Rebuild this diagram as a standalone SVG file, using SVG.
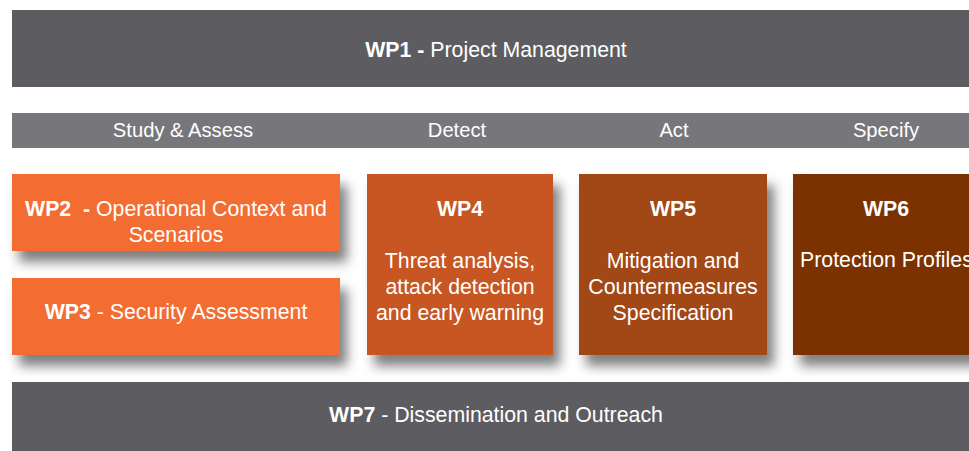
<svg xmlns="http://www.w3.org/2000/svg" width="969" height="451" viewBox="0 0 969 451">
<defs>
<filter id="sh" x="-20%" y="-20%" width="150%" height="160%">
<feDropShadow dx="7" dy="11" stdDeviation="6" flood-color="#000" flood-opacity="0.5"/>
</filter>
<style>
text{font-family:"Liberation Sans",Arial,sans-serif;fill:#fff;font-size:21.3px;text-anchor:middle}
.b{font-weight:bold}
.bar{fill:#5d5d61}
.ph{fill:#77777b}
.p{font-size:20.2px}
</style>
</defs>
<rect width="969" height="451" fill="#fff"/>
<g id="wp1"><rect class="bar" x="12" y="10" width="960" height="77"/><text x="496" y="57"><tspan class="b">WP1 -</tspan> Project Management</text></g>
<g id="phases"><rect class="ph" x="12" y="113" width="960" height="35"/>
<text class="p" x="183" y="137">Study &amp; Assess</text>
<text class="p" x="457" y="137">Detect</text>
<text class="p" x="674" y="137">Act</text>
<text class="p" x="886" y="137">Specify</text></g>
<g id="wp2"><rect x="12" y="174" width="328" height="77" fill="#f36c32" filter="url(#sh)"/>
<text x="176" y="216"><tspan class="b">WP2&#160; -</tspan> Operational Context and</text>
<text x="176" y="242">Scenarios</text></g>
<g id="wp3"><rect x="12" y="278" width="328" height="77" fill="#f36c32" filter="url(#sh)"/>
<text x="176" y="319"><tspan class="b">WP3</tspan> - Security Assessment</text></g>
<g id="wp4"><rect x="367" y="174" width="186" height="181" fill="#c75623" filter="url(#sh)"/>
<text x="460" y="216" class="b">WP4</text>
<text x="460" y="268">Threat analysis,</text>
<text x="460" y="294">attack detection</text>
<text x="460" y="320">and early warning</text></g>
<g id="wp5"><rect x="579" y="174" width="188" height="181" fill="#a24718" filter="url(#sh)"/>
<text x="673" y="216" class="b">WP5</text>
<text x="673" y="268">Mitigation and</text>
<text x="673" y="294">Countermeasures</text>
<text x="673" y="320">Specification</text></g>
<g id="wp6"><rect x="793" y="174" width="190" height="181" fill="#7b3306" filter="url(#sh)"/>
<text x="886" y="216" class="b">WP6</text>
<text x="800" y="267" style="text-anchor:start">Protection Profiles</text></g>
<g id="wp7"><rect class="bar" x="12" y="382" width="960" height="72"/><text x="496" y="422"><tspan class="b">WP7</tspan> - Dissemination and Outreach</text></g>
<g id="connectors"/>
</svg>
